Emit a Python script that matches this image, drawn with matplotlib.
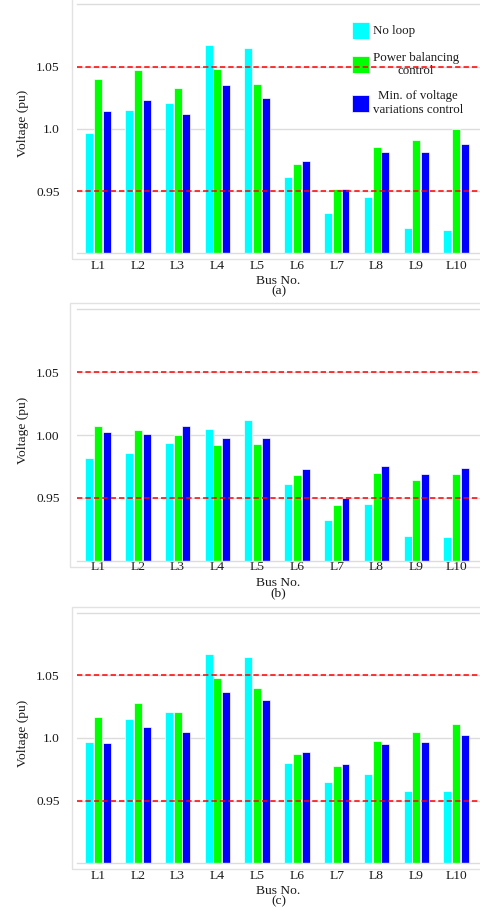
import matplotlib
matplotlib.use('Agg')
import numpy as np
import matplotlib.pyplot as plt
from matplotlib.patches import Rectangle

# 数据
buses = ['L1', 'L2', 'L3', 'L4', 'L5', 'L6', 'L7', 'L8', 'L9', 'L10']
series_names = ['No loop', 'Power balancing\ncontrol', 'Min. of voltage\nvariations control']
colors = ['#00ffff', '#00ff00', '#0000ff']

# (a)
no_loop_a = [0.997, 1.015, 1.021, 1.067, 1.065, 0.961, 0.932, 0.945, 0.920, 0.919]
power_bal_a = [1.040, 1.047, 1.033, 1.048, 1.036, 0.972, 0.952, 0.985, 0.991, 1.000]
min_var_a = [1.014, 1.023, 1.012, 1.035, 1.025, 0.974, 0.952, 0.981, 0.981, 0.988]

# (b)
no_loop_b = [0.982, 0.986, 0.994, 1.005, 1.012, 0.961, 0.932, 0.945, 0.920, 0.919]
power_bal_b = [1.007, 1.004, 1.000, 0.992, 0.993, 0.968, 0.944, 0.970, 0.964, 0.969]
min_var_b = [1.002, 1.001, 1.007, 0.998, 0.998, 0.973, 0.950, 0.975, 0.969, 0.974]

# (c)
no_loop_c = [0.997, 1.015, 1.021, 1.067, 1.065, 0.980, 0.965, 0.971, 0.958, 0.958]
power_bal_c = [1.017, 1.028, 1.021, 1.048, 1.040, 0.987, 0.978, 0.998, 1.005, 1.011]
min_var_c = [0.996, 1.009, 1.005, 1.037, 1.030, 0.989, 0.979, 0.995, 0.997, 1.002]

v_upper = 1.05
v_lower = 0.95
yticks = [0.95, 1.0, 1.05]
ytick_labels_a = ['0.95', '1.0', '1.05']
ytick_labels_b = ['0.95', '1.00', '1.05']
ytick_labels_c = ['0.95', '1.0', '1.05']
panel_tags = ['(a)', '(b)', '(c)']

plt.rcParams['font.family'] = ['Liberation Serif', 'DejaVu Serif']
plt.rcParams['font.size'] = 9.7

W, H = 480, 909
fig = plt.figure(figsize=(4.8, 9.09), dpi=100)

# 像素位置 (inner top, inner bottom, outer left, tick pad)
boxes = [(4.3, 253.3, 72, 4.5), (309.3, 560.7, 70, 0.3), (612.7, 863.3, 72, 4.5)]
inner_left = 77

panels = [
    (no_loop_a, power_bal_a, min_var_a, ytick_labels_a),
    (no_loop_b, power_bal_b, min_var_b, ytick_labels_b),
    (no_loop_c, power_bal_c, min_var_c, ytick_labels_c),
]

x = np.arange(len(buses))
offsets = [-0.22, 0, 0.22]
gray = '#dcdcdc'
txt = '#1a1a1a'

for k, (box, data) in enumerate(zip(boxes, panels)):
    top, bot, outer_left, pad = box
    ax = fig.add_axes([inner_left / W, 1 - bot / H, (W - inner_left) / W, (bot - top) / H])

    # 外框
    fig.add_artist(Rectangle((outer_left / W, 1 - (bot + 6) / H),
                             (W + 20 - outer_left) / W, (bot - top + 12) / H,
                             transform=fig.transFigure, fill=False,
                             edgecolor='#e2e2e2', linewidth=1.0, zorder=0))

    for i in range(3):
        ax.bar(x + offsets[i], np.array(data[i]) - 0.9, bottom=0.9, width=0.2,
               color=colors[i], edgecolor='white', linewidth=0.5,
               label=series_names[i], zorder=2)

    ax.axhline(v_upper, color='red', linestyle='--', dashes=(3.5, 2), linewidth=1.1, zorder=6)
    ax.axhline(v_lower, color='red', linestyle='--', dashes=(3.5, 2), linewidth=1.1, zorder=6)

    ax.set_xlim(-0.528, 9.6)
    ax.set_ylim(0.9, 1.1)
    ax.set_yticks(yticks)
    ax.set_yticklabels(data[3])
    ax.set_xticks(x)
    ax.set_xticklabels(buses)
    ax.tick_params(axis='both', length=0, colors=txt)
    ax.tick_params(axis='y', pad=12.5)
    ax.tick_params(axis='x', pad=pad)
    ax.yaxis.grid(True, color=gray, linewidth=1.0)
    ax.set_axisbelow(True)
    for s in ['left', 'right']:
        ax.spines[s].set_visible(False)
    for s in ['top', 'bottom']:
        ax.spines[s].set_color(gray)
        ax.spines[s].set_linewidth(1.0)

    h = bot - top
    ax.set_ylabel('Voltage (pu)', color=txt)
    ax.yaxis.set_label_coords(-0.12, 0.52)
    ax.set_xlabel('Bus No.', color=txt)
    lab_off = 22 if k == 1 else 27.5
    ax.xaxis.set_label_coords(0.5, -lab_off / h)
    ax.xaxis.label.set_verticalalignment('center')
    ax.text(0.5, -(lab_off + 10.5) / h, panel_tags[k], transform=ax.transAxes,
            ha='center', va='center', color=txt)

    if k == 0:
        leg = ax.legend(loc='upper left', bbox_to_anchor=(0.683, 0.93), frameon=False,
                        fontsize=9.3, handlelength=1.3, handleheight=1.65,
                        handletextpad=0.3, labelspacing=1.0,
                        borderpad=0, borderaxespad=0)
        for t in leg.get_texts():
            t.set_multialignment('center')
            t.set_color(txt)

plt.savefig('out.png', dpi=100)
